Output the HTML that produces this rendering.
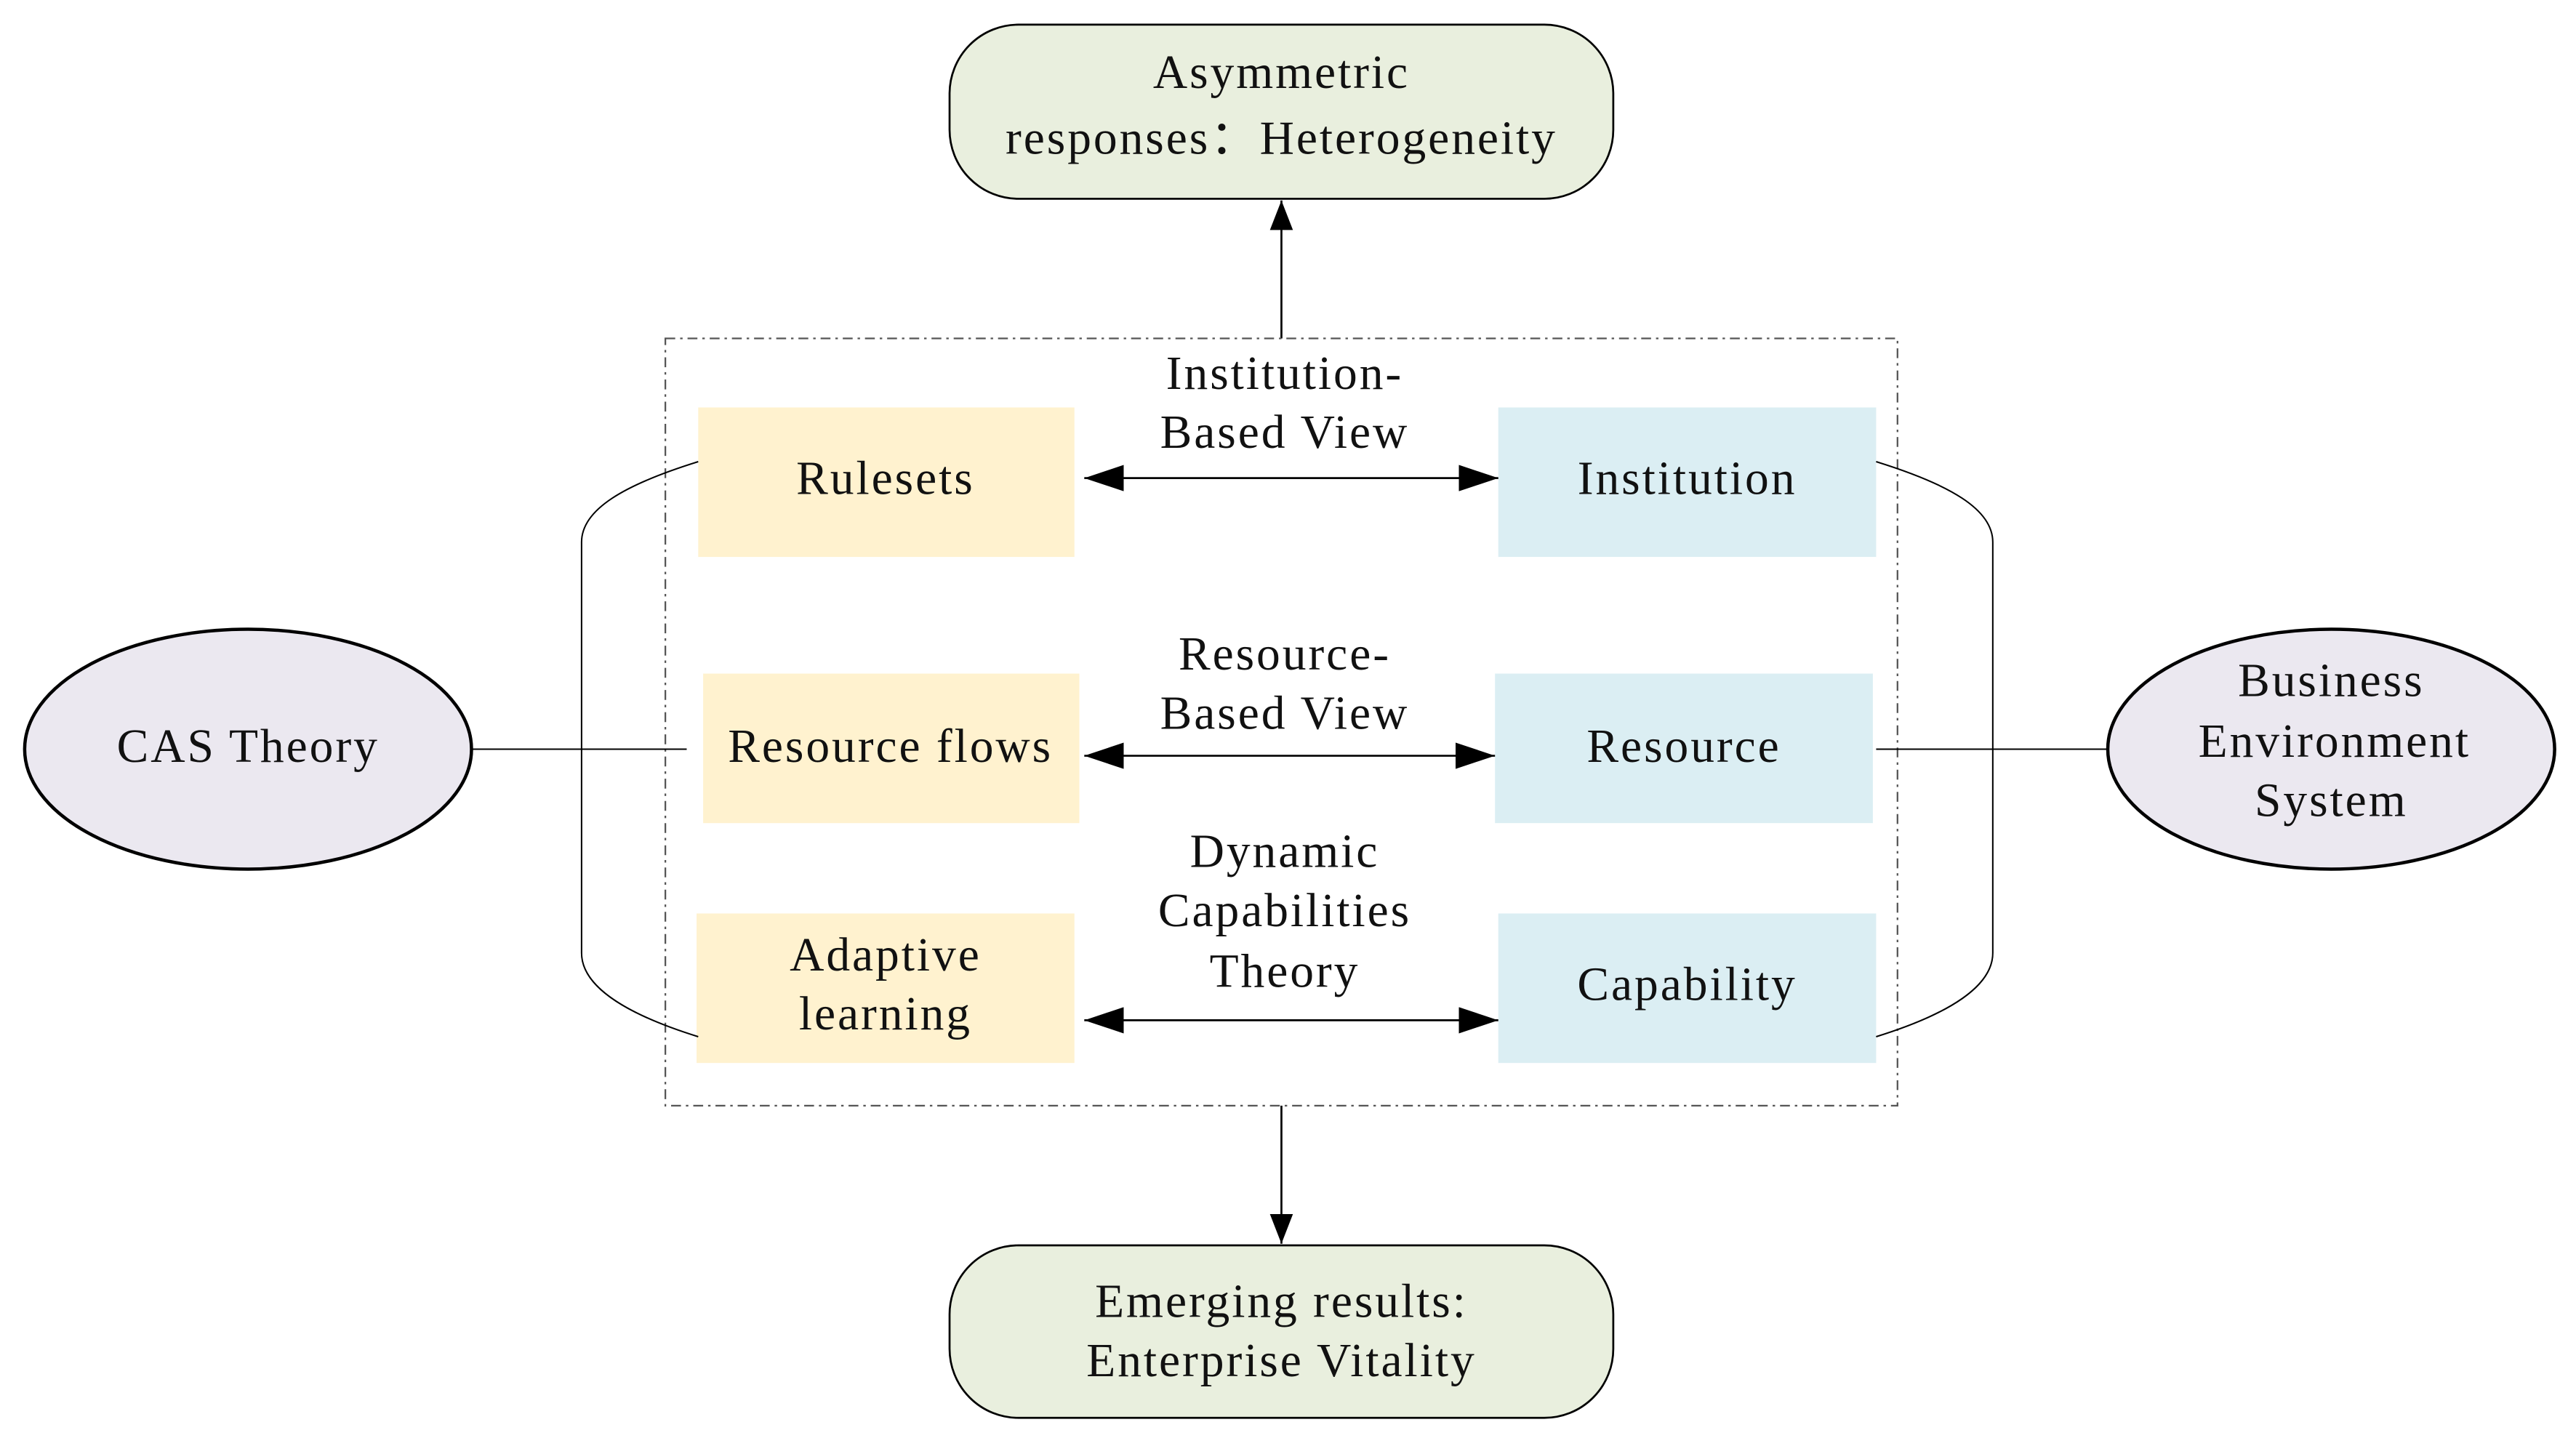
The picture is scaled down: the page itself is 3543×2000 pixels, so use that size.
<!DOCTYPE html>
<html><head><meta charset="utf-8"><style>
html,body{margin:0;padding:0;background:#fff;}
svg{display:block;}
text{font-family:"Liberation Serif",serif;font-size:29px;letter-spacing:1.3px;fill:#111;text-anchor:middle;dominant-baseline:middle;}
</style></head><body>
<svg width="3543" height="2000" viewBox="0 0 1568 885" preserveAspectRatio="none" xmlns="http://www.w3.org/2000/svg">
<defs>
<marker id="ah2" markerWidth="24" markerHeight="16" refX="24" refY="8" orient="auto-start-reverse" markerUnits="userSpaceOnUse">
<path d="M0,0 L24,8 L0,16 Z" fill="#000"/></marker>
<marker id="ah3" markerWidth="18" markerHeight="14" refX="18" refY="7" orient="auto-start-reverse" markerUnits="userSpaceOnUse">
<path d="M0,0 L18,7 L0,14 Z" fill="#000"/></marker>
</defs>
<rect x="578" y="15" width="404" height="106" rx="42" fill="#e9efde" stroke="#000" stroke-width="1.2"/>
<text x="780" y="47">Asymmetric</text>
<text x="780" y="87">responses：Heterogeneity</text>
<rect x="578" y="758" width="404" height="105" rx="42" fill="#e9efde" stroke="#000" stroke-width="1.2"/>
<text x="780" y="795">Emerging results:</text>
<text x="780" y="831">Enterprise Vitality</text>
<line x1="780" y1="206" x2="780" y2="122" stroke="#000" stroke-width="1.2" marker-end="url(#ah3)"/>
<line x1="780" y1="673" x2="780" y2="757" stroke="#000" stroke-width="1.2" marker-end="url(#ah3)"/>
<rect x="405" y="206" width="750" height="467" fill="none" stroke="#555" stroke-width="1" stroke-dasharray="6,3,1.5,3"/>
<rect x="425" y="248" width="229" height="91" fill="#fff2cf"/>
<text x="539" y="294">Rulesets</text>
<rect x="912" y="248" width="230" height="91" fill="#dbeef3"/>
<text x="1027" y="294">Institution</text>
<rect x="428" y="410" width="229" height="91" fill="#fff2cf"/>
<text x="542" y="457">Resource flows</text>
<rect x="910" y="410" width="230" height="91" fill="#dbeef3"/>
<text x="1025" y="457">Resource</text>
<rect x="424" y="556" width="230" height="91" fill="#fff2cf"/>
<text x="539" y="584">Adaptive</text>
<text x="539" y="620">learning</text>
<rect x="912" y="556" width="230" height="91" fill="#dbeef3"/>
<text x="1027" y="602">Capability</text>
<line x1="660" y1="291" x2="912" y2="291" stroke="#000" stroke-width="1.2" marker-start="url(#ah2)" marker-end="url(#ah2)"/>
<line x1="660" y1="460" x2="910" y2="460" stroke="#000" stroke-width="1.2" marker-start="url(#ah2)" marker-end="url(#ah2)"/>
<line x1="660" y1="621" x2="912" y2="621" stroke="#000" stroke-width="1.2" marker-start="url(#ah2)" marker-end="url(#ah2)"/>
<text x="782" y="230">Institution-</text>
<text x="782" y="266">Based View</text>
<text x="782" y="401">Resource-</text>
<text x="782" y="437">Based View</text>
<text x="782" y="521">Dynamic</text>
<text x="782" y="557">Capabilities</text>
<text x="782" y="594">Theory</text>
<ellipse cx="151" cy="456" rx="136" ry="73" fill="#ebe8f0" stroke="#000" stroke-width="2"/>
<text x="151" y="457">CAS Theory</text>
<ellipse cx="1419" cy="456" rx="136" ry="73" fill="#ebe8f0" stroke="#000" stroke-width="2"/>
<text x="1419" y="417">Business</text>
<text x="1421" y="454">Environment</text>
<text x="1419" y="490">System</text>
<line x1="287" y1="456" x2="418" y2="456" stroke="#000" stroke-width="0.9"/>
<line x1="1142" y1="456" x2="1283" y2="456" stroke="#000" stroke-width="0.9"/>
<path d="M425,281 C380,295 354,310 354,330 L354,580 C354,600 380,617 425,631" fill="none" stroke="#000" stroke-width="0.9"/>
<path d="M1142,281 C1187,295 1213,310 1213,330 L1213,580 C1213,600 1187,617 1142,631" fill="none" stroke="#000" stroke-width="0.9"/>
</svg>
</body></html>
